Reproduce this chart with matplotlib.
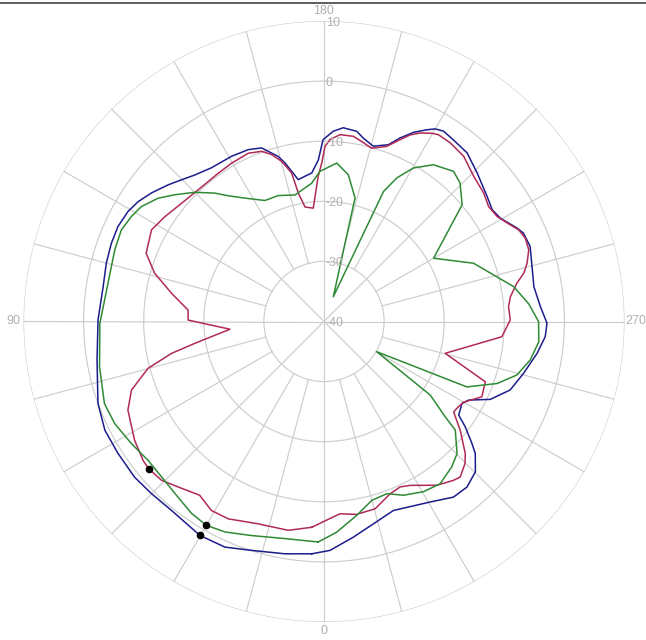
import numpy as np
import matplotlib
matplotlib.use('Agg')
import matplotlib.pyplot as plt
from matplotlib.lines import Line2D

#radiation patterns, angle in degrees (0 at bottom, clockwise), level in dB
blue_ang = [3.0, 9.6, 17.6, 23.7, 30.1, 38.9, 45.1, 50.6, 57.4, 63.6, 70.1, 80.4, 90.4, 99.0,
            105.0, 110.2, 114.7, 119.3, 122.8, 126.7, 131.2, 134.8, 138.6, 143.8, 150.8, 156.2,
            160.2, 164.5, 166.2, 169.7, 175.3, 178.0, 179.7, 182.8, 185.7, 189.8, 192.1, 195.7,
            200.0, 202.5, 205.3, 208.2, 210.0, 212.1, 215.5, 220.3, 225.9, 232.5, 236.4, 239.6,
            244.2, 246.1, 250.0, 255.2, 260.6, 266.1, 270.4, 273.9, 278.5, 284.6, 290.2, 295.1,
            298.5, 300.7, 304.8, 306.7, 309.5, 311.1, 314.8, 319.2, 323.6, 329.5, 339.8, 352.2, 358.5]
blue_db = [-1.3, -0.8, -0.05, 1.0, 1.15, 0.4, 0.55, 0.8, 0.7, 0.7, 0.0, -1.7, -2.4, -2.8,
           -2.5, -2.3, -2.25, -2.6, -3.2, -4.2, -5.5, -6.55, -7.5, -8.3, -8.5, -8.75,
           -9.3, -11.5, -12.85, -16.0, -15.2, -13.1, -9.75, -8.3, -7.6, -7.9, -8.8, -9.7,
           -8.7, -6.95, -5.2, -3.8, -3.0, -2.6, -2.9, -3.2, -4.5, -5.8, -6.4, -6.0,
           -4.3, -3.7, -3.5, -4.2, -4.6, -3.9, -2.9, -3.1, -4.15, -5.7, -7.0, -9.45,
           -12.6, -13.3, -12.7, -10.7, -8.1, -6.6, -4.5, -3.6, -3.7, -5.15, -6.5, -3.8, -1.9]

red_ang = [3.4, 9.7, 18.0, 25.9, 30.8, 35.6, 41.4, 45.7, 50.0, 52.5, 57.9, 65.7, 70.4, 75.1,
           78.2, 80.4, 85.3, 90.6, 94.8, 100.5, 105.9, 111.0, 118.0, 123.4, 129.7, 136.3,
           144.5, 149.7, 155.8, 159.9, 162.6, 165.2, 167.7, 168.7, 170.6, 174.6, 175.9, 177.7,
           179.2, 180.3, 181.9, 184.9, 189.0, 191.8, 195.4, 199.7, 202.7, 204.8, 207.0, 209.8,
           211.5, 215.3, 220.2, 225.9, 231.2, 235.1, 238.8, 241.7, 244.8, 247.5, 250.7, 254.0,
           256.4, 258.8, 262.4, 265.4, 269.5, 274.9, 284.7, 290.5, 295.5, 300.1, 303.2, 304.9,
           308.6, 313.1, 315.2, 318.8, 320.8, 325.4, 332.3, 335.3, 339.0, 344.7, 350.4, 355.2, 358.3]
red_db = [-5.7, -4.75, -4.6, -3.5, -3.4, -4.45, -3.3, -2.2, -1.9, -2.05, -2.8, -4.2, -6.0, -9.7,
          -14.1, -18.2, -24.3, -17.4, -17.3, -14.2, -10.7, -8.3, -7.5, -8.3, -9.2, -9.7,
          -9.7, -9.5, -9.3, -9.85, -10.9, -12.45, -14.7, -18.2, -20.7, -21.05, -19.15, -15.85,
          -13.6, -10.9, -9.7, -8.8, -8.8, -9.4, -10.1, -9.05, -7.2, -5.8, -4.8, -3.9,
          -3.55, -3.6, -4.0, -5.3, -5.9, -6.6, -6.3, -5.4, -4.2, -3.75, -3.9, -4.85,
          -5.8, -7.3, -8.7, -9.2, -9.0, -10.3, -19.15, -11.35, -10.9, -13.2, -13.6, -13.7,
          -11.0, -7.8, -6.7, -5.6, -5.9, -6.9, -9.2, -9.7, -9.3, -7.7, -7.45, -7.9, -7.2]

green_ang = [1.5, 10.2, 18.7, 25.2, 30.0, 34.6, 39.8, 46.3, 51.8, 57.7, 64.0, 69.5, 78.6, 89.5,
             100.0, 108.9, 114.3, 118.6, 122.2, 126.6, 130.3, 135.0, 139.6, 142.7, 147.3, 154.0,
             160.0, 167.1, 174.9, 178.5, 184.6, 189.4, 194.1, 200.6, 204.6, 206.9, 210.2, 214.9,
             220.8, 224.5, 229.8, 240.0, 248.7, 255.5, 259.6, 265.1, 270.0, 275.4, 280.6, 285.5,
             289.7, 294.6, 299.8, 304.7, 308.2, 309.6, 314.8, 318.7, 324.4, 329.7, 335.4, 339.9,
             345.0, 350.4, 356.5]
green_db = [-3.3, -3.3, -2.4, -1.3, -0.85, -1.2, -2.0, -2.6, -2.7, -2.05, -1.25, -1.0, -1.9, -2.7,
            -3.5, -3.2, -3.0, -3.5, -4.1, -5.6, -7.4, -9.6, -11.95, -13.7, -15.6, -17.6,
            -17.7, -18.4, -16.9, -15.0, -13.55, -15.25, -18.8, -35.6, -16.2, -13.2, -10.45, -8.2,
            -7.0, -7.7, -9.9, -18.95, -13.3, -10.3, -7.9, -5.8, -4.3, -4.1, -5.1, -6.7,
            -9.4, -13.85, -29.9, -18.5, -14.3, -11.65, -8.8, -7.8, -6.8, -7.2, -8.2, -9.5,
            -9.2, -7.3, -4.9]

#marker points
mark_ang = [30.1, 50.0, 30.0]
mark_db = [1.15, -1.9, -0.85]

rings = [-30, -20, -10, 0, 10]
ring_labels = ['10', '0', '-10', '-20', '-30', '-40']
ring_label_pos = [10, 0, -10, -20, -30, -40]
axis_labels = ['0', '90', '180', '270']

grid_col = '#cdcdcd'
txt_col = '#b0b0b0'
plt.rcParams['font.family'] = ['Liberation Sans Narrow', 'Liberation Sans', 'DejaVu Sans']

fig = plt.figure(figsize=(6.46, 6.40), dpi=100)
ax = fig.add_axes([23.5/646, 18/640, 601/646, 601/640], projection='polar')
ax.set_theta_zero_location('S')
ax.set_theta_direction(-1)
ax.set_ylim(-40, 10)
ax.axis('off')

#grid circles
th = np.linspace(0, 2*np.pi, 721)
for r in rings:
    ax.plot(th, np.full_like(th, r), color=grid_col, lw=0.85, zorder=1)

#spokes every 15 deg, the 45 deg ones run into the centre
for a in range(0, 360, 15):
    r0 = -40 if a % 45 == 0 else -30
    ax.plot([np.deg2rad(a)]*2, [r0, 10], color=grid_col, lw=0.85, zorder=1)

def closed(ang, db):
    ang = np.deg2rad(np.append(ang, ang[0]))
    db = np.append(db, db[0])
    return ang, db

t, r = closed(blue_ang, blue_db)
ax.plot(t, r, color='#1c1c8c', lw=1.1, zorder=3)
t, r = closed(red_ang, red_db)
ax.plot(t, r, color='#b02a55', lw=1.1, zorder=3)
t, r = closed(green_ang, green_db)
ax.plot(t, r, color='#2f8a35', lw=1.1, zorder=3)

ax.plot(np.deg2rad(mark_ang), mark_db, 'o', color='black', ms=4.5, zorder=4)

#radial labels along the 180 spoke
for lbl, r in zip(ring_labels, ring_label_pos):
    ax.annotate(lbl, xy=(np.pi, r), xytext=(2, -2), textcoords='offset pixels',
                ha='left', va='center', fontsize=9, color=txt_col)

#angle labels
offs = {'0': (0, -9, 'center'), '90': (-3, 0, 'right'), '180': (0, 10, 'center'), '270': (1, 0, 'left')}
for lbl in axis_labels:
    dx, dy, ha = offs[lbl]
    ax.annotate(lbl, xy=(np.deg2rad(float(lbl)), 10), xytext=(dx, dy), textcoords='offset pixels',
                ha=ha, va='center', fontsize=9, color=txt_col, annotation_clip=False)

#top border
fig.add_artist(Line2D([0, 1], [1 - 2.5/640]*2, transform=fig.transFigure, color='#505050', lw=1.3))

plt.savefig('out.png', dpi=100)
